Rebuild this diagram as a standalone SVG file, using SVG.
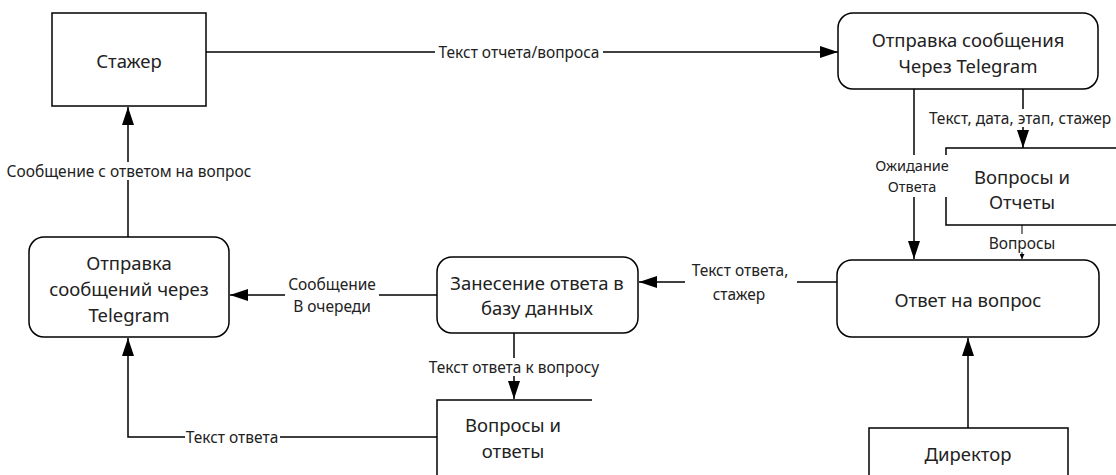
<svg xmlns="http://www.w3.org/2000/svg" width="1116" height="475" viewBox="0 0 1116 475">
  <style>
    .box { fill: #ffffff; stroke: #000000; stroke-width: 1.5; }
    .store { fill: none; stroke: #000000; stroke-width: 1.5; }
    .node-text { font-family: "Noto Sans", "Open Sans", sans-serif; font-size: 18.5px; fill: #222222; text-anchor: middle; dominant-baseline: central; }
    .edge { fill: none; stroke: #000000; stroke-width: 1.5; marker-end: url(#arrow); }
    .edge-small { fill: none; stroke: #000000; stroke-width: 1; marker-end: url(#arrow-small); }
    .label-bg { fill: #ffffff; }
    .label { font-family: "Noto Sans", "Open Sans", sans-serif; font-size: 15.5px; fill: #222222; text-anchor: middle; dominant-baseline: central; }
    .label-tight { font-size: 14.5px; }
  </style>
  <defs>
    <marker id="arrow" viewBox="0 0 18 12" refX="18" refY="6" markerWidth="18" markerHeight="12" markerUnits="userSpaceOnUse" orient="auto">
      <path d="M0,0 L18,6 L0,12 Z" fill="#000000"/>
    </marker>
    <marker id="arrow-small" viewBox="0 0 6 6" refX="6" refY="3" markerWidth="5" markerHeight="5" markerUnits="userSpaceOnUse" orient="auto">
      <path d="M0,0 L6,3 L0,6 Z" fill="#000000"/>
    </marker>
  </defs>

  <rect width="1116" height="475" fill="#ffffff"/>

  <!-- flows between processes, entities and stores -->
  <g id="connectors">
    <path class="edge" d="M206,52 L838,52"/>
    <path class="edge" d="M914,89 L914,259"/>
    <path class="edge" d="M1023,89 L1023,148"/>
    <path class="edge-small" d="M1022,225 L1022,259"/>
    <path class="edge" d="M968,428 L968,338"/>
    <path class="edge" d="M837,282 L639,282"/>
    <path class="edge" d="M437,295 L230,295"/>
    <path class="edge" d="M514,333 L514,399"/>
    <path class="edge" d="M437,437 L128,437 L128,338"/>
    <path class="edge" d="M128,237 L128,107"/>
  </g>

  <!-- external entity: intern -->
  <g id="node-intern">
    <rect class="box" x="52" y="13" width="154" height="93"/>
    <text class="node-text" x="129" y="60">Стажер</text>
  </g>

  <!-- process: sending a message via Telegram -->
  <g id="node-send-telegram">
    <rect class="box" x="838" y="13" width="260" height="76" rx="15"/>
    <text class="node-text" x="968" y="39">Отправка сообщения</text>
    <text class="node-text" x="968" y="65">Через Telegram</text>
  </g>

  <!-- data store: questions and reports -->
  <g id="store-reports">
    <path class="store" d="M1116,148 L946,148 L946,225 L1116,225"/>
    <text class="node-text" x="1022" y="176">Вопросы и</text>
    <text class="node-text" x="1022" y="201">Отчеты</text>
  </g>

  <!-- process: answering a question -->
  <g id="node-answer">
    <rect class="box" x="837" y="260" width="262" height="77" rx="15"/>
    <text class="node-text" x="968" y="299">Ответ на вопрос</text>
  </g>

  <!-- external entity: director -->
  <g id="node-director">
    <rect class="box" x="869" y="428" width="199" height="60"/>
    <text class="node-text" x="968" y="453">Директор</text>
  </g>

  <!-- process: storing the answer -->
  <g id="node-store-answer">
    <rect class="box" x="437" y="257" width="201" height="76" rx="15"/>
    <text class="node-text" x="537" y="282">Занесение ответа в</text>
    <text class="node-text" x="537" y="307">базу данных</text>
  </g>

  <!-- data store: questions and answers -->
  <g id="store-answers">
    <path class="store" d="M592,400 L437,400 L437,480"/>
    <text class="node-text" x="513" y="424">Вопросы и</text>
    <text class="node-text" x="513" y="450">ответы</text>
  </g>

  <!-- process: sending messages via Telegram -->
  <g id="node-send-messages">
    <rect class="box" x="29" y="237" width="200" height="100" rx="15"/>
    <text class="node-text" x="129" y="262">Отправка</text>
    <text class="node-text" x="129" y="288">сообщений через</text>
    <text class="node-text" x="129" y="314">Telegram</text>
  </g>

  <!-- flow labels -->
  <g id="labels">
    <rect class="label-bg" x="435" y="43" width="168" height="18"/>
    <text class="label" x="519" y="52">Текст отчета/вопроса</text>

    <rect class="label-bg" x="925" y="109" width="191" height="18"/>
    <text class="label" x="1020" y="118">Текст, дата, этап, стажер</text>

    <rect class="label-bg" x="869" y="155" width="87" height="42"/>
    <text class="label label-tight" x="912" y="165">Ожидание</text>
    <text class="label label-tight" x="912" y="186">Ответа</text>

    <rect class="label-bg" x="989" y="234" width="66" height="18"/>
    <text class="label" x="1022" y="243">Вопросы</text>

    <rect class="label-bg" x="685" y="258" width="112" height="46"/>
    <text class="label" x="740" y="270">Текст ответа,</text>
    <text class="label" x="739" y="294">стажер</text>

    <rect class="label-bg" x="285" y="273" width="94" height="43"/>
    <text class="label" x="332" y="284">Сообщение</text>
    <text class="label" x="332" y="306">В очереди</text>

    <rect class="label-bg" x="428" y="358" width="172" height="18"/>
    <text class="label" x="514" y="367">Текст ответа к вопросу</text>

    <rect class="label-bg" x="185" y="428" width="95" height="18"/>
    <text class="label" x="232" y="437">Текст ответа</text>

    <rect class="label-bg" x="6" y="162" width="245" height="18"/>
    <text class="label" x="129" y="171">Сообщение с ответом на вопрос</text>
  </g>
</svg>
